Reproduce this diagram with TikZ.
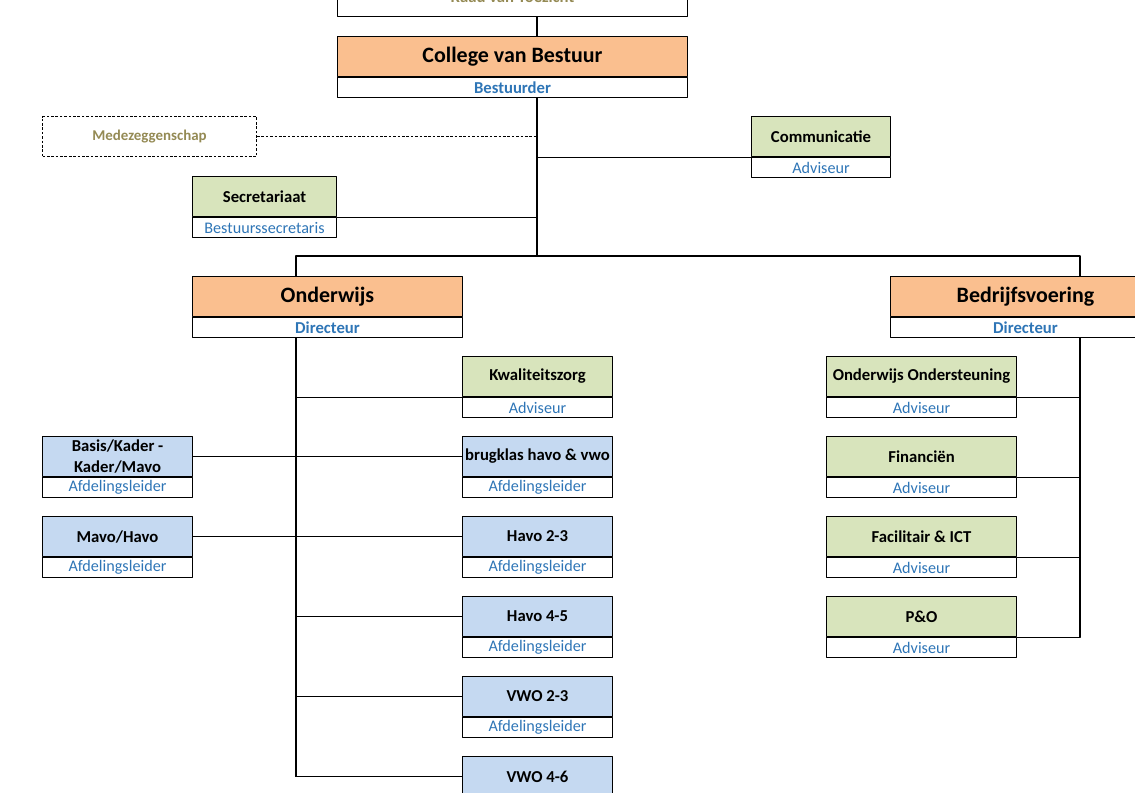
\documentclass[tikz,border=0pt]{standalone}
\usepackage{fontspec}
\setmainfont{Carlito}
\definecolor{orng}{HTML}{FABF8F}
\definecolor{grn}{HTML}{D8E4BC}
\definecolor{blu}{HTML}{C5D9F1}
\definecolor{roleblue}{HTML}{2E75B6}
\definecolor{olive}{HTML}{948A54}
\begin{document}
\begin{tikzpicture}[x=0.02cm, y=-0.02cm, line width=0.6pt, line join=round]
\tikzset{hd/.style={draw=black, anchor=north west, inner sep=0pt, align=center, minimum height=0.8cm, minimum width=#1, font=\bfseries\fontsize{9.5}{11.5}\selectfont},
	rl/.style={draw=black, anchor=north, inner sep=0pt, minimum height=0.4cm, minimum width=#1, text=roleblue, font=\fontsize{9.2}{11}\selectfont},
	big/.style={font=\bfseries\fontsize{12.5}{14}\selectfont},
	bigrl/.style={font=\bfseries\fontsize{9.5}{11}\selectfont}}
\useasboundingbox (0,0) rectangle (1135,792);
\clip (0,0) rectangle (1135,792);

% bestuur
\node[hd=7cm, text=olive] (rvt) at (337,-24) {Raad van Toezicht};
\node[hd=7cm, big, fill=orng] (cvb) at (337,36) {College van Bestuur};
\node[rl=7cm, bigrl] (cvb-r) at (cvb.south) {Bestuurder};
\node[hd=4.28cm, text=olive, dash pattern=on 1.5pt off 1pt, font=\bfseries\fontsize{8.5}{10}\selectfont] (mz) at (42,116) {Medezeggenschap};
\node[hd=2.78cm, fill=grn] (com) at (751,116) {Communicatie};
\node[rl=2.78cm] (com-r) at (com.south) {Adviseur};
\node[hd=2.88cm, fill=grn] (sec) at (192,176) {Secretariaat};
\node[rl=2.88cm] (sec-r) at (sec.south) {Bestuurssecretaris};
\coordinate (cv) at (537,256);
\coordinate (ol) at (296,256);
\coordinate (br) at (1080,256);
\draw (rvt.south -| cv) -- (cvb.north -| cv);
\draw (cvb-r.south -| cv) -- (cv);
\draw[dash pattern=on 1.5pt off 1pt] (mz.east) -- (mz.east -| cv);
\draw (com.south west) -- (com.south west -| cv);
\draw (sec.south east) -- (sec.south east -| cv);

% directies
\node[hd=5.4cm, big, fill=orng] (ow) at (192,276) {Onderwijs};
\node[rl=5.4cm, bigrl] (ow-r) at (ow.south) {Directeur};
\node[hd=5.4cm, big, fill=orng] (bv) at (890,276) {Bedrijfsvoering};
\node[rl=5.4cm, bigrl] (bv-r) at (bv.south) {Directeur};
\draw (ow.north -| ol) -- (ol) -- (br) -- (bv.north -| br);

% onderwijs
\node[hd=3cm, fill=grn] (kz) at (462,356) {Kwaliteitszorg};
\node[rl=3cm] (kz-r) at (kz.south) {Adviseur};
\node[hd=3cm, fill=blu] (bk) at (462,436) {brugklas havo \& vwo};
\node[rl=3cm] (bk-r) at (bk.south) {Afdelingsleider};
\node[hd=3cm, fill=blu] (bkm) at (42,436) {Basis/Kader -\\Kader/Mavo};
\node[rl=3cm] (bkm-r) at (bkm.south) {Afdelingsleider};
\node[hd=3cm, fill=blu] (mh) at (42,516) {Mavo/Havo};
\node[rl=3cm] (mh-r) at (mh.south) {Afdelingsleider};
\node[hd=3cm, fill=blu] (h23) at (462,516) {Havo 2-3};
\node[rl=3cm] (h23-r) at (h23.south) {Afdelingsleider};
\node[hd=3cm, fill=blu] (h45) at (462,596) {Havo 4-5};
\node[rl=3cm] (h45-r) at (h45.south) {Afdelingsleider};
\node[hd=3cm, fill=blu] (v23) at (462,676) {VWO 2-3};
\node[rl=3cm] (v23-r) at (v23.south) {Afdelingsleider};
\node[hd=3cm, fill=blu] (v46) at (462,756) {VWO 4-6};
\node[rl=3cm] (v46-r) at (v46.south) {Afdelingsleider};
\draw (ow-r.south -| ol) -- (v46.west -| ol);
\draw (kz.south west -| ol) -- (kz.south west);
\draw (bkm.east) -- (bk.west);
\draw (mh.east) -- (h23.west);
\foreach \n in {h45,v23,v46}{
	\draw (\n.west -| ol) -- (\n.west);}

% bedrijfsvoering
\node[hd=3.8cm, fill=grn] (oo) at (826,356) {Onderwijs Ondersteuning};
\node[rl=3.8cm] (oo-r) at (oo.south) {Adviseur};
\node[hd=3.8cm, fill=grn] (fin) at (826,436) {Financiën};
\node[rl=3.8cm] (fin-r) at (fin.south) {Adviseur};
\node[hd=3.8cm, fill=grn] (fac) at (826,516) {Facilitair \& ICT};
\node[rl=3.8cm] (fac-r) at (fac.south) {Adviseur};
\node[hd=3.8cm, fill=grn] (po) at (826,596) {P\&O};
\node[rl=3.8cm] (po-r) at (po.south) {Adviseur};
\draw (bv-r.south -| br) -- (po.south east -| br) -- (po.south east);
\foreach \n in {oo,fin,fac}{
	\draw (\n.south east) -- (\n.south east -| br);}
\end{tikzpicture}
\end{document}
